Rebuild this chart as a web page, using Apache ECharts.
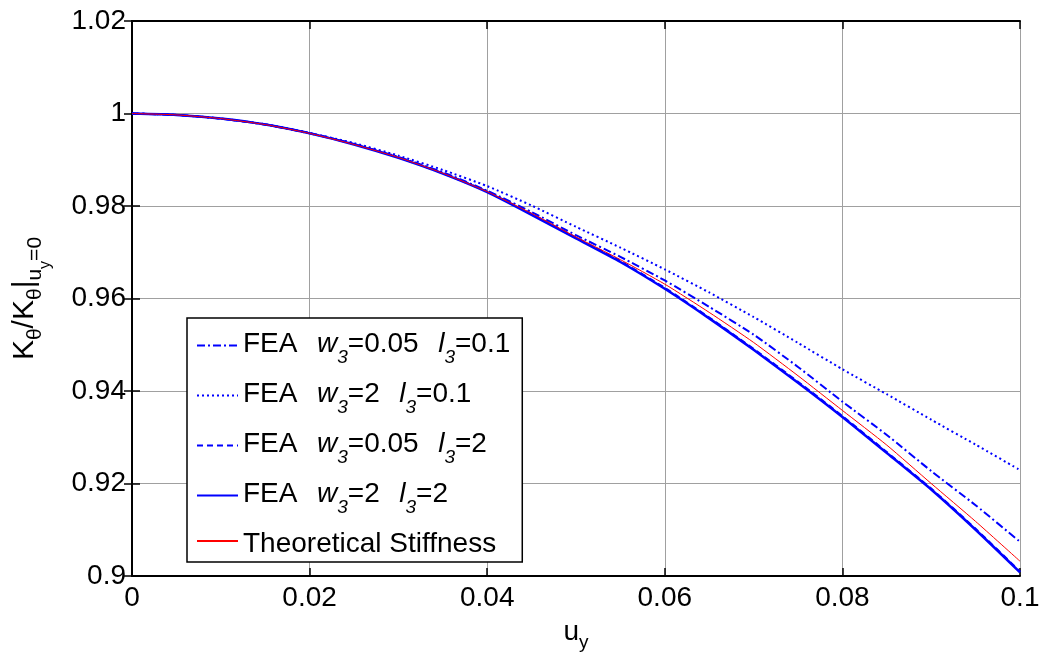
<!DOCTYPE html>
<html>
<head>
<meta charset="utf-8">
<script src="https://cdn.jsdelivr.net/npm/echarts@6/dist/echarts.min.js"></script>
<style>html,body{margin:0;padding:0;background:#fff}#c{width:1043px;height:658px}</style>
</head>
<body>
<div id="c"></div>
<script>
// ---- data ----
var uy = [0, 0.005, 0.01, 0.015, 0.02, 0.025, 0.03, 0.035, 0.04, 0.045, 0.05,
          0.055, 0.06, 0.065, 0.07, 0.075, 0.08, 0.085, 0.09, 0.095, 0.1];
var feaW005L01 = [1.0000, 0.9997, 0.9989, 0.9976, 0.9957, 0.9934, 0.9906, 0.9873, 0.9833, 0.9787, 0.9737,
                  0.9690, 0.9639, 0.9582, 0.9522, 0.9452, 0.9377, 0.9305, 0.9227, 0.9153, 0.9074];
var feaW2L01   = [1.0000, 0.9997, 0.9989, 0.9977, 0.9958, 0.9936, 0.9909, 0.9878, 0.9843, 0.9801, 0.9755,
                  0.9710, 0.9663, 0.9613, 0.9560, 0.9504, 0.9447, 0.9393, 0.9338, 0.9284, 0.9229];
var feaW005L2  = [1.0000, 0.9997, 0.9989, 0.9976, 0.9958, 0.9934, 0.9905, 0.9871, 0.9831, 0.9783, 0.9732,
                  0.9681, 0.9623, 0.9559, 0.9491, 0.9420, 0.9346, 0.9268, 0.9189, 0.9102, 0.9010];
var feaW2L2    = [1.0000, 0.9997, 0.9989, 0.9976, 0.9957, 0.9933, 0.9904, 0.9870, 0.9830, 0.9781, 0.9730,
                  0.9679, 0.9621, 0.9557, 0.9489, 0.9418, 0.9344, 0.9266, 0.9187, 0.9100, 0.9008];
var theory     = [1.0000, 0.9997, 0.9989, 0.9976, 0.9957, 0.9933, 0.9905, 0.9871, 0.9831, 0.9784, 0.9733,
                  0.9684, 0.9631, 0.9570, 0.9505, 0.9433, 0.9358, 0.9283, 0.9200, 0.9118, 0.9032];
var seriesNames = ['fea1', 'fea2', 'fea3', 'fea4', 'theory'];
var legendLabels = {
  fea1: '{n|FEA  }{i|w}{s|3}{n|=0.05  }{i|l}{s|3}{n|=0.1}',
  fea2: '{n|FEA  }{i|w}{s|3}{n|=2  }{i|l}{s|3}{n|=0.1}',
  fea3: '{n|FEA  }{i|w}{s|3}{n|=0.05  }{i|l}{s|3}{n|=2}',
  fea4: '{n|FEA  }{i|w}{s|3}{n|=2  }{i|l}{s|3}{n|=2}',
  theory: '{n|Theoretical Stiffness}'
};
var xTicks = [0, 0.02, 0.04, 0.06, 0.08, 0.1];
var yTicks = [0.9, 0.92, 0.94, 0.96, 0.98, 1, 1.02];

function pairs(ys) { return uy.map(function (x, i) { return [x, ys[i]]; }); }

var FONT = '"Liberation Sans", Arial, sans-serif';
var richTxt = {
  n: {fontSize: 28, fontFamily: FONT, color: '#000', verticalAlign: 'top', padding: [6, 0, 0, 0]},
  i: {fontSize: 28, fontFamily: FONT, color: '#000', fontStyle: 'italic', verticalAlign: 'top', padding: [6, 0, 0, 4]},
  s: {fontSize: 19, fontFamily: FONT, color: '#000', fontStyle: 'italic', verticalAlign: 'top', padding: [24, 0, 0, 0]}
};
var richAxis = {
  n: {fontSize: 28, fontFamily: FONT, color: '#000', verticalAlign: 'top', padding: [0, 0, 0, 0]},
  s: {fontSize: 19, fontFamily: FONT, color: '#000', verticalAlign: 'top', padding: [15, 0, 0, 0]},
  ss: {fontSize: 15, fontFamily: FONT, color: '#000', verticalAlign: 'top', padding: [27, 0, 0, 0]}
};
var richYName = {
  n: {fontSize: 30, fontFamily: FONT, color: '#000', verticalAlign: 'top', padding: [0, 0, 0, 0]},
  s: {fontSize: 21, fontFamily: FONT, color: '#000', verticalAlign: 'top', padding: [15, 0, 0, 0]},
  ss: {fontSize: 16, fontFamily: FONT, color: '#000', verticalAlign: 'top', padding: [28, 0, 0, 0]}
};

var chart = echarts.init(document.getElementById('c'), null, {renderer: 'canvas'});
var gridLine = {show: true, lineStyle: {color: '#a0a0a0', width: 1}};
var axLine = {show: true, lineStyle: {color: '#000', width: 2}};
var tickFmt = function (v) { return String(+v.toFixed(3)); };

chart.setOption({
  animation: false,
  backgroundColor: '#fff',
  grid: {left: 132, right: 23, top: 21, bottom: 82, containLabel: false, outerBoundsMode: 'none'},
  xAxis: [{
    type: 'value', min: xTicks[0], max: xTicks[xTicks.length - 1], interval: 0.02,
    axisLine: axLine, axisTick: {inside: true, length: 8, lineStyle: {color: '#000', width: 1.5}},
    axisLabel: {fontSize: 28, fontFamily: FONT, color: '#000', margin: 8, formatter: tickFmt, showMaxLabel: true, showMinLabel: true},
    splitLine: gridLine,
    name: '{n|u}{s|y}', nameLocation: 'middle', nameGap: 42,
    nameTextStyle: {rich: richAxis}
  }, {
    type: 'value', position: 'top', min: 0, max: 0.1, interval: 0.02,
    axisLine: axLine, axisTick: {inside: true, length: 8, lineStyle: {color: '#000', width: 1.5}},
    axisLabel: {show: false}, splitLine: {show: false}
  }],
  yAxis: [{
    type: 'value', min: yTicks[0], max: yTicks[yTicks.length - 1], interval: 0.02,
    axisLine: axLine, axisTick: {inside: true, length: 8, lineStyle: {color: '#000', width: 1.5}},
    axisLabel: {fontSize: 28, fontFamily: FONT, color: '#000', margin: 6, formatter: tickFmt, showMaxLabel: true, showMinLabel: true},
    splitLine: gridLine,
    name: '{n|K}{s|θ}{n|/K}{s|θ}{n||}{s|u}{ss|y}{s|=0}', nameLocation: 'middle', nameRotate: 90, nameGap: 78,
    nameTextStyle: {rich: richYName}
  }, {
    type: 'value', position: 'right', min: 0.9, max: 1.02, interval: 0.02,
    axisLine: axLine, axisTick: {inside: true, length: 8, lineStyle: {color: '#000', width: 1.5}},
    axisLabel: {show: false}, splitLine: {show: false}
  }],
  legend: {
    orient: 'vertical', left: 187, top: 318,
    data: seriesNames,
    formatter: function (name) { return legendLabels[name]; },
    textStyle: {rich: richTxt},
    itemWidth: 41, itemHeight: 14, itemGap: 13,
    itemStyle: {opacity: 0},
    padding: [12, 12, 4, 9],
    backgroundColor: '#fff', borderColor: '#000', borderWidth: 1.5, borderRadius: 0
  },
  series: [
    {name: 'fea1', type: 'line', data: pairs(feaW005L01), symbol: 'none', smooth: 0.2,
     lineStyle: {color: '#0000ff', width: 2, type: [8, 3, 2, 3]}, itemStyle: {color: '#0000ff'}},
    {name: 'fea2', type: 'line', data: pairs(feaW2L01), symbol: 'none', smooth: 0.2,
     lineStyle: {color: '#0000ff', width: 2, type: [2, 3]}, itemStyle: {color: '#0000ff'}},
    {name: 'fea3', type: 'line', data: pairs(feaW005L2), symbol: 'none', smooth: 0.2,
     lineStyle: {color: '#0000ff', width: 2, type: [6, 4]}, itemStyle: {color: '#0000ff'}},
    {name: 'fea4', type: 'line', data: pairs(feaW2L2), symbol: 'none', smooth: 0.2,
     lineStyle: {color: '#0000ff', width: 2.5, type: 'solid'}, itemStyle: {color: '#0000ff'}},
    {name: 'theory', type: 'line', data: pairs(theory), symbol: 'none', smooth: 0.2,
     lineStyle: {color: '#ff0000', width: 1, type: 'solid'}, itemStyle: {color: '#ff0000'}}
  ]
});
</script>
</body>
</html>
